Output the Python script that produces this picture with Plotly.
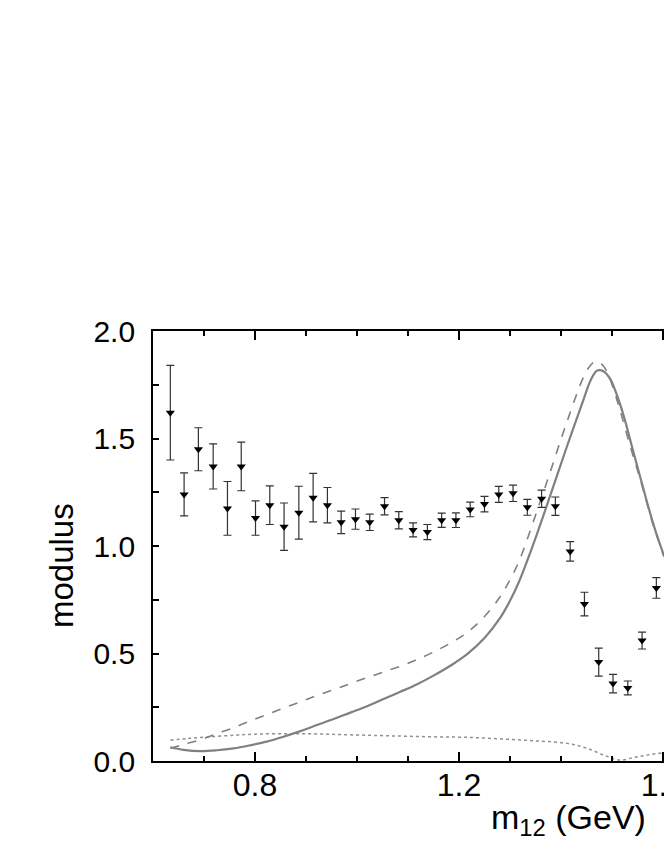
import plotly.graph_objects as go

# data points (m12, modulus, error)
m_pts = [0.634, 0.661, 0.689, 0.718, 0.746, 0.773, 0.801, 0.829, 0.857, 0.886,
         0.914, 0.942, 0.969, 0.997, 1.025, 1.054, 1.082, 1.110, 1.138, 1.166,
         1.194, 1.222, 1.250, 1.278, 1.306, 1.334, 1.362, 1.389, 1.418, 1.446,
         1.474, 1.502, 1.531, 1.559, 1.587]
mod_pts = [1.62, 1.24, 1.45, 1.37, 1.175, 1.37, 1.13, 1.19, 1.09, 1.155,
           1.225, 1.19, 1.11, 1.125, 1.11, 1.185, 1.12, 1.075, 1.065, 1.12,
           1.12, 1.17, 1.195, 1.24, 1.245, 1.18, 1.22, 1.185, 0.975, 0.73,
           0.46, 0.36, 0.34, 0.56, 0.805]
err_pts = [0.22, 0.10, 0.10, 0.105, 0.125, 0.113, 0.08, 0.09, 0.11, 0.123,
           0.113, 0.082, 0.052, 0.047, 0.038, 0.04, 0.04, 0.033, 0.035, 0.033,
           0.034, 0.034, 0.036, 0.037, 0.038, 0.037, 0.04, 0.043, 0.045, 0.055,
           0.065, 0.043, 0.032, 0.039, 0.048]

# solid curve
m_solid = [0.634, 0.66, 0.693, 0.725, 0.758, 0.79, 0.823, 0.856, 0.889, 0.92,
           0.954, 0.987, 1.020, 1.052, 1.085, 1.118, 1.150, 1.183, 1.216, 1.25,
           1.281, 1.30, 1.317, 1.346, 1.379, 1.412, 1.444, 1.458, 1.471, 1.484,
           1.497, 1.51, 1.523, 1.54, 1.556, 1.582, 1.602]
mod_solid = [0.064, 0.052, 0.046, 0.050, 0.059, 0.073, 0.090, 0.113, 0.139, 0.166,
             0.195, 0.225, 0.255, 0.288, 0.322, 0.357, 0.397, 0.443, 0.497, 0.572,
             0.667, 0.745, 0.830, 1.010, 1.235, 1.465, 1.680, 1.770, 1.816, 1.812,
             1.775, 1.700, 1.605, 1.455, 1.315, 1.095, 0.955]

# dashed curve
m_dash = [0.634, 0.66, 0.693, 0.725, 0.758, 0.79, 0.823, 0.856, 0.889, 0.92,
          0.954, 0.987, 1.020, 1.052, 1.085, 1.118, 1.150, 1.183, 1.216, 1.25,
          1.281, 1.297, 1.317, 1.346, 1.379, 1.412, 1.444, 1.456, 1.467, 1.478,
          1.490, 1.503, 1.516, 1.535, 1.556, 1.58, 1.602]
mod_dash = [0.059, 0.077, 0.099, 0.127, 0.155, 0.186, 0.216, 0.246, 0.275, 0.303,
            0.332, 0.360, 0.388, 0.414, 0.441, 0.472, 0.507, 0.548, 0.598, 0.672,
            0.765, 0.830, 0.925, 1.115, 1.345, 1.580, 1.785, 1.835, 1.858, 1.85,
            1.812, 1.730, 1.630, 1.47, 1.305, 1.105, 0.95]

# dotted curve
m_dot = [0.634, 0.67, 0.71, 0.76, 0.80, 0.85, 0.90, 0.95, 1.00, 1.05,
         1.10, 1.16, 1.216, 1.28, 1.346, 1.412, 1.451, 1.49, 1.516, 1.542,
         1.57, 1.60]
mod_dot = [0.097, 0.105, 0.112, 0.120, 0.125, 0.127, 0.127, 0.124, 0.121, 0.118,
           0.115, 0.112, 0.110, 0.103, 0.094, 0.082, 0.059, 0.022, 0.004, 0.016,
           0.028, 0.038]

grey = '#808080'
font = 'Liberation Sans, Arial, sans-serif'

fig = go.Figure()
fig.add_trace(go.Scatter(x=m_dot, y=mod_dot, mode='lines', line=dict(color='#909090', width=1.5, dash='dot', shape='spline')))
fig.add_trace(go.Scatter(x=m_dash, y=mod_dash, mode='lines', line=dict(color=grey, width=1.6, dash='dash', shape='spline')))
fig.add_trace(go.Scatter(x=m_solid, y=mod_solid, mode='lines', line=dict(color=grey, width=2.2, shape='spline')))
fig.add_trace(go.Scatter(x=m_pts, y=mod_pts, mode='markers',
                         marker=dict(symbol='triangle-down', size=8, color='black'),
                         error_y=dict(type='data', array=err_pts, visible=True, color='#333333', thickness=1.2, width=4)))

fig.update_layout(
    width=664, height=860, template='none', showlegend=False,
    paper_bgcolor='white', plot_bgcolor='white',
    margin=dict(l=153, r=0, t=331, b=99),
    font=dict(family=font, color='black'),
)
fig.update_xaxes(range=[0.6, 1.602], tick0=0.8, dtick=0.4, tickformat='.1f',
                 ticks='inside', ticklen=9, tickwidth=1.5, tickcolor='black',
                 minor=dict(dtick=0.1, ticks='inside', ticklen=5, tickwidth=1.5, tickcolor='black'),
                 showline=True, linecolor='black', linewidth=1.8, mirror='allticks',
                 showgrid=False, zeroline=False, tickfont=dict(size=32),
                 ticklabeloverflow='allow', ticklabelstandoff=-5)
fig.update_yaxes(range=[0, 2], tick0=0, dtick=0.5, tickformat='.1f',
                 ticks='inside', ticklen=6, tickwidth=1.5, tickcolor='black',
                 minor=dict(dtick=0.25, ticks='inside', ticklen=6, tickwidth=1.5, tickcolor='black'),
                 showline=True, linecolor='black', linewidth=1.8,
                 showgrid=False, zeroline=False, tickfont=dict(size=30),
                 ticklabelstandoff=10)

fig.add_annotation(text='modulus', xref='paper', yref='paper', x=-0.178, y=0.4535,
                   textangle=-90, showarrow=False, font=dict(size=33),
                   xanchor='center', yanchor='middle')
fig.add_annotation(text='m<sub>12</sub> (GeV)', xref='paper', yref='paper', x=0.657, y=-0.137,
                   showarrow=False, font=dict(size=34), xanchor='left', yanchor='middle')

# drop the default body margin so the figure fills the window exactly
fig.write_html('out.html', config={'displayModeBar': False},
               post_script="document.body.style.margin='0';document.body.style.overflow='hidden';")
